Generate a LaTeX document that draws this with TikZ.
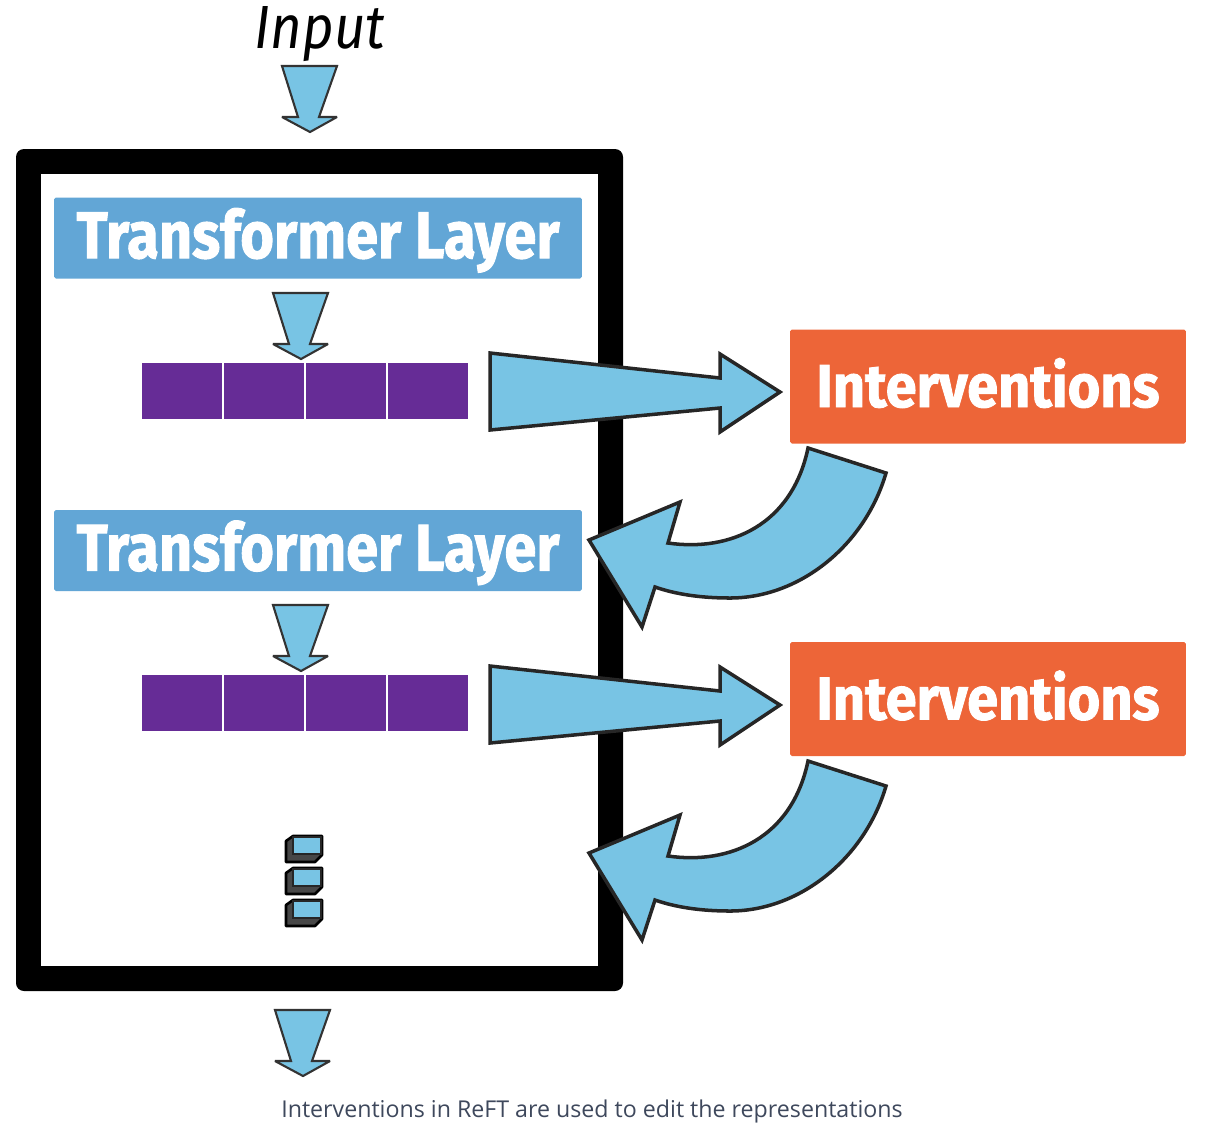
\documentclass[tikz,border=0pt]{standalone}
\usepackage{fontspec}
\usepackage{graphicx}
\setsansfont{Fira Sans}
\newfontfamily\bannerfont[BoldFeatures={FakeBold=1.5}]{Fira Sans}
\newfontfamily\capfont{Open Sans}
\usetikzlibrary{arrows.meta,positioning,calc}
\definecolor{cframe}{RGB}{0,0,0}
\definecolor{clayer}{RGB}{98,166,214}
\definecolor{carrow}{RGB}{120,196,228}
\definecolor{cpurple}{RGB}{102,44,150}
\definecolor{corange}{RGB}{237,101,56}
\definecolor{ccap}{RGB}{62,72,92}
\tikzset{
  layerbox/.style={fill=clayer, rounded corners=1pt, minimum width=10.56cm, minimum height=1.62cm, inner sep=0pt, text=white, text height=1.0cm, text depth=0.2cm, font=\bannerfont\bfseries},
  intbox/.style={fill=corange, rounded corners=1pt, minimum width=7.92cm, minimum height=2.28cm, inner sep=0pt, text=white, text height=0.98cm, text depth=0.16cm, font=\bannerfont\bfseries},
  cellbox/.style={fill=cpurple, minimum width=1.6cm, minimum height=1.12cm, inner sep=0pt},
  barr/.style={fill=carrow, draw=black!85, line width=2pt, line join=miter, miter limit=3},
  sarr/.style={fill=carrow, draw=black!80, line width=1.2pt, line join=miter, miter limit=3},
  pics/downarr/.style={code={
    \draw[sarr] (-28,0) -- (27,0) -- (9,51) -- (27,51) -- (0,66) -- (-28,51) -- (-12,51) -- cycle;
  }},
  pics/rightarr/.style={code={
    \draw[barr] (0,-39) -- (230,-14) -- (230,-38) -- (290,0) -- (230,40) -- (230,16) -- (0,38) -- cycle;
  }},
  pics/bendarr/.style={code={
    \draw[barr] (808,448) -- (886,473)
      .. controls (865,545) and (800,598) .. (730,598)
      .. controls (700,598) and (675,594) .. (655,587)
      -- (642,627) -- (589,540) -- (680,502) -- (668,543)
      .. controls (730,552) and (792,525) .. (808,448) -- cycle;
  }},
  pics/block/.style={code={
    \draw[fill=black!72, line width=1.5pt, line join=round] (1,6) -- (8,1) -- (37,1) -- (37,20) -- (30,27) -- (1,27) -- cycle;
    \draw[fill=carrow, draw=black!85, line width=1pt] (8,2) rectangle (36,19);
  }},
}
\begin{document}
\begin{tikzpicture}[x=0.02cm, y=-0.02cm]
  \useasboundingbox (0,0) rectangle (1206,1134);
  % outer frame
  \fill[cframe, rounded corners=0.16cm] (16,149) rectangle (623,991);
  \fill[white] (41,174) rectangle (598,966);

  \node[layerbox] (layerA) at (318,238) {\resizebox{9.66cm}{1.0cm}{Transformer Layer}};
  \node[layerbox] (layerB) at (318,550.5) {\resizebox{9.66cm}{1.0cm}{Transformer Layer}};
  \node[intbox] (intA) at (988,386.5) {\resizebox{6.86cm}{0.98cm}{Interventions}};
  \node[intbox] (intB) at (988,699) {\resizebox{6.86cm}{0.98cm}{Interventions}};

  % activations
  \foreach \i in {0,1,2,3} {
    \node[cellbox] (cellA\i) at (182+82*\i,391) {};
    \node[cellbox] (cellB\i) at (182+82*\i,703) {};
  }

  \node[font=\sffamily\itshape, inner sep=0pt] (input) at (320,34) {\resizebox{2.6cm}{0.84cm}{Input}};
  \pic at (310,66) {downarr};
  \pic at (301,293) {downarr};
  \pic at (301,605) {downarr};
  \pic at (303,1010) {downarr};

  \pic at (490,392) {rightarr};
  \pic at (490,705) {rightarr};
  \pic at (0,0) {bendarr};
  \pic at (0,313) {bendarr};

  \pic at (285,835) {block};
  \pic at (285,867) {block};
  \pic at (285,899) {block};

  \node[font=\capfont\fontsize{13.2pt}{16pt}\selectfont, text=ccap, inner sep=0pt] (caption) at (592,1111) {Interventions in ReFT are used to edit the representations};
\end{tikzpicture}
\end{document}
